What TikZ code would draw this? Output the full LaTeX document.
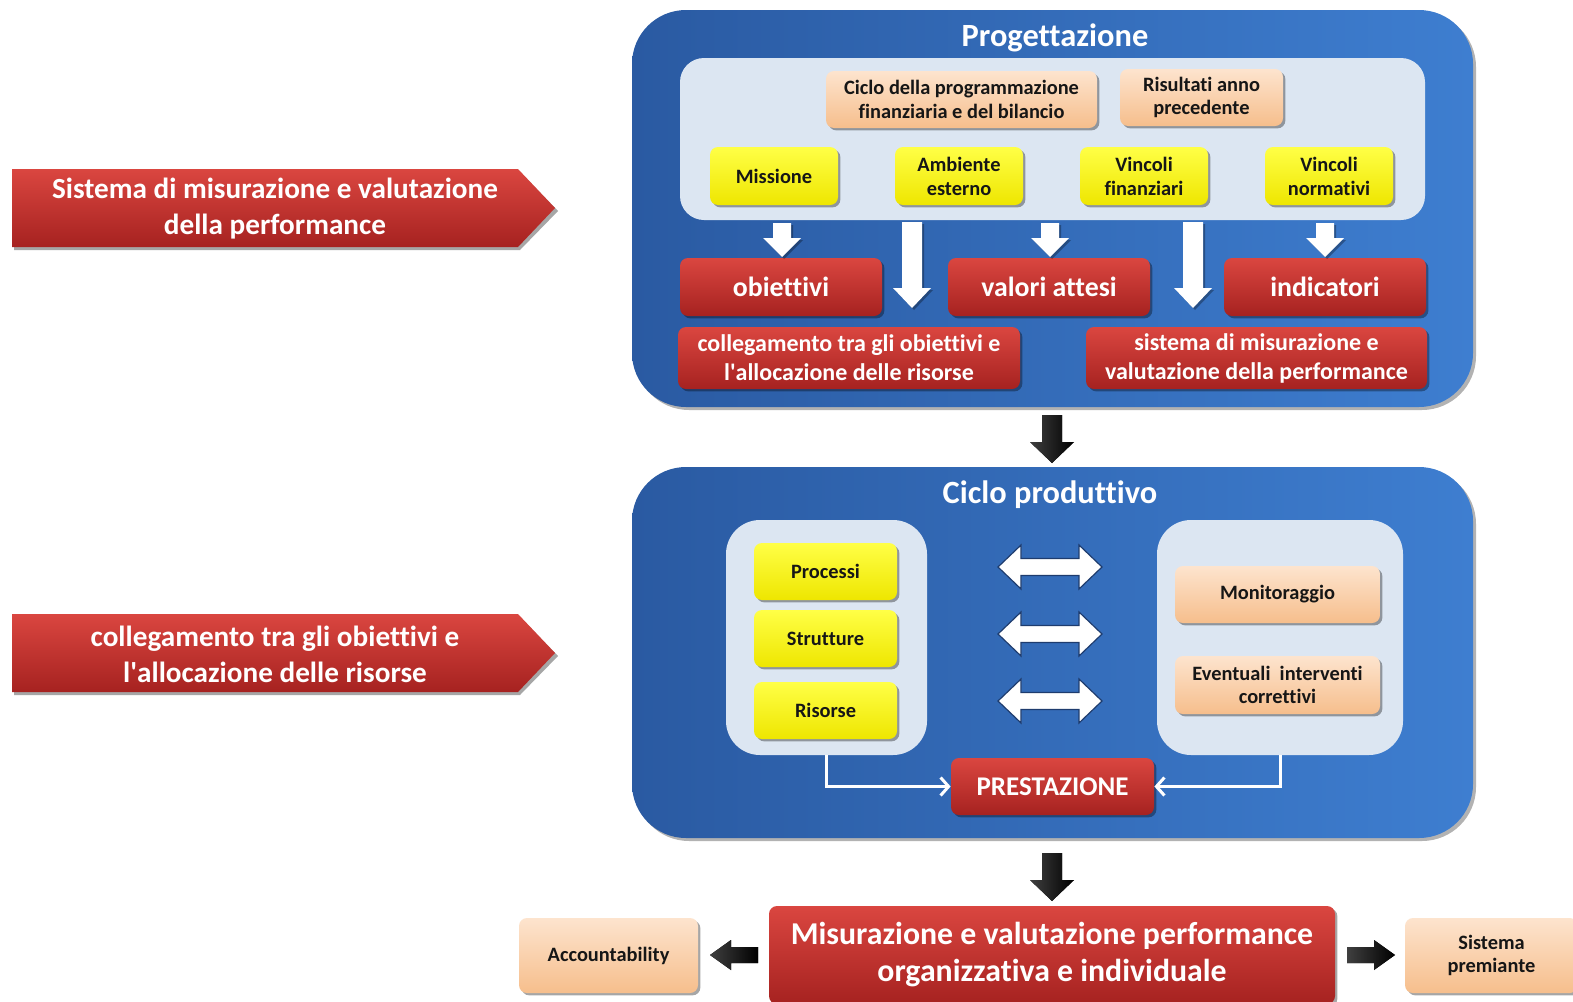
\documentclass[tikz,border=0pt]{standalone}
\usepackage{fontspec}
\setmainfont{Carlito}[Ligatures=CommonOff]
\usetikzlibrary{shadows,arrows.meta}

\definecolor{blueL}{RGB}{42,90,162}
\definecolor{blueR}{RGB}{62,126,208}
\definecolor{panel}{RGB}{220,230,242}
\definecolor{redT}{RGB}{218,70,64}
\definecolor{redB}{RGB}{166,34,32}
\definecolor{yelT}{RGB}{255,255,70}
\definecolor{yelB}{RGB}{238,230,0}
\definecolor{orT}{RGB}{253,228,206}
\definecolor{orB}{RGB}{246,190,140}
\definecolor{ink}{RGB}{22,22,22}
\definecolor{edge}{RGB}{30,60,110}

% block arrow pointing down: style, x, y top, y head, y tip, shaft half, head half
\newcommand{\downblock}[7]{%
  \fill[#1] (#2-#6,#3) -- (#2+#6,#3) -- (#2+#6,#4) -- (#2+#7,#4) -- (#2,#5)
    -- (#2-#7,#4) -- (#2-#6,#4) -- cycle;}
% horizontal block arrow: style, x tail, x head, x tip, y
\newcommand{\sideblock}[5]{%
  \fill[#1] (#2,#5-8) -- (#3,#5-8) -- (#3,#5-15) -- (#4,#5) -- (#3,#5+15)
    -- (#3,#5+8) -- (#2,#5+8) -- cycle;}
% double-headed white block arrow centred at x, y
\newcommand{\twoway}[2]{%
  \path[fill=white, draw=edge, line width=0.6pt]
    (#1-52,#2) -- (#1-29,#2-22) -- (#1-29,#2-8.5) -- (#1+29,#2-8.5)
    -- (#1+29,#2-22) -- (#1+52,#2) -- (#1+29,#2+22) -- (#1+29,#2+8.5)
    -- (#1-29,#2+8.5) -- (#1-29,#2+22) -- cycle;}

\begin{document}
\begin{tikzpicture}[x=0.5pt,y=-0.5pt,
  sh/.style={drop shadow={shadow xshift=1.2pt,shadow yshift=-1.2pt,opacity=.35,fill=black}},
  bigpanel/.style={rounded corners=27pt, left color=blueL, right color=blueR,
    drop shadow={shadow xshift=1.5pt,shadow yshift=-1.5pt,opacity=.3,fill=black}, inner sep=0pt},
  lightpanel/.style={fill=panel, inner sep=0pt},
  redbox/.style={sh, rounded corners=4pt, top color=redT, bottom color=redB,
    text=white, align=center, inner sep=0pt},
  yelbox/.style={sh, rounded corners=4pt, top color=yelT, bottom color=yelB,
    text=ink, align=center, inner sep=0pt,
    font=\bfseries\fontsize{10.2}{12}\selectfont},
  orbox/.style={sh, rounded corners=4pt, top color=orT, bottom color=orB,
    text=ink, align=center, inner sep=0pt,
    font=\bfseries\fontsize{10.2}{11.8}\selectfont},
  title/.style={text=white, font=\bfseries\fontsize{16.2}{19}\selectfont},
  bigred/.style={font=\bfseries\fontsize{13.9}{16}\selectfont},
  smallred/.style={font=\bfseries\fontsize{12}{14.5}\selectfont},
  sidelabel/.style={text=white, align=center, font=\bfseries\fontsize{14.6}{18}\selectfont},
  whitearrow/.style={fill=white},
  arrowshadow/.style={fill=black, opacity=.3, shift={(2,2)}},
  blackarrow/.style={left color=black!75, right color=black},
  conn/.style={draw=white, line width=1.5pt, -{Straight Barb[length=4pt,width=9pt,line width=1.5pt]}}
]
\useasboundingbox (0,0) rectangle (1573,1001);
\fill[white] (0,0) rectangle (1573,1001);

% ---------- side banners ----------
\fill[black!35] (14,172) -- (520,172) -- (558,211) -- (520,250) -- (14,250) -- cycle;
\shade[top color=redT, bottom color=redB] (12,169) -- (518,169) -- (555,208) -- (518,247) -- (12,247) -- cycle;
\node[sidelabel] (side1) at (275,209) {Sistema di misurazione e valutazione\\della performance};

\fill[black!35] (14,617) -- (520,617) -- (558,656) -- (520,695) -- (14,695) -- cycle;
\shade[top color=redT, bottom color=redB] (12,614) -- (518,614) -- (555,653) -- (518,692) -- (12,692) -- cycle;
\node[sidelabel] (side2) at (275,654) {collegamento tra gli obiettivi e\\l\textquotesingle allocazione delle risorse};

% ---------- Progettazione ----------
\node[bigpanel, minimum width=420.5pt, minimum height=198.5pt] (prog) at (1052.5,208.5) {};
\node[title] (progt) at (1055,38) {Progettazione};
\node[lightpanel, rounded corners=12pt, minimum width=372.5pt, minimum height=81pt] (ppanel) at (1052.5,139) {};

\node[orbox, minimum width=135.5pt, minimum height=28.5pt] (ciclo) at (961.5,99.5) {Ciclo della programmazione\\finanziaria e del bilancio};
\node[orbox, minimum width=81.5pt, minimum height=28.5pt] (risult) at (1201.5,97.5) {Risultati anno\\precedente};

\node[yelbox, minimum width=64pt, minimum height=29pt] (missione) at (774,176) {Missione};
\node[yelbox, minimum width=64pt, minimum height=29pt] (ambiente) at (959,176) {Ambiente\\esterno};
\node[yelbox, minimum width=64pt, minimum height=29pt] (vincfin) at (1144,176) {Vincoli\\finanziari};
\node[yelbox, minimum width=64pt, minimum height=29pt] (vincnorm) at (1329,176) {Vincoli\\normativi};

\node[redbox, bigred, minimum width=101pt, minimum height=29pt] (obiettivi) at (781,287) {obiettivi};
\node[redbox, bigred, minimum width=101pt, minimum height=29pt] (valori) at (1049,287) {valori attesi};
\node[redbox, bigred, minimum width=101pt, minimum height=29pt] (indicatori) at (1325,287) {indicatori};

\node[redbox, smallred, minimum width=171pt, minimum height=31pt] (colleg) at (849,358) {collegamento tra gli obiettivi e\\l\textquotesingle allocazione delle risorse};
\node[redbox, smallred, minimum width=170.5pt, minimum height=31pt] (sistema) at (1256.5,358) {sistema di misurazione e\\valutazione della performance};

% white block arrows out of the inputs panel
\foreach \ax in {782,1050,1325}{
  \downblock{arrowshadow}{\ax}{223}{238}{257}{9}{19}
  \downblock{whitearrow}{\ax}{223}{238}{257}{9}{19}}
\foreach \ax in {912,1193}{
  \downblock{arrowshadow}{\ax}{222}{288}{308}{10}{19}
  \downblock{whitearrow}{\ax}{222}{288}{308}{10}{19}}

% ---------- link between the two stages ----------
\downblock{blackarrow}{1052}{415}{442}{463}{10}{22}

% ---------- Ciclo produttivo ----------
\node[bigpanel, minimum width=420.5pt, minimum height=185.5pt] (prod) at (1052.5,652.5) {};
\node[title] (prodt) at (1050,495) {Ciclo produttivo};

\node[lightpanel, rounded corners=17pt, minimum width=100.5pt, minimum height=117.5pt] (lpanel) at (826.5,637.5) {};
\node[lightpanel, rounded corners=17pt, minimum width=123pt, minimum height=117.5pt] (rpanel) at (1280,637.5) {};

\node[yelbox, minimum width=71.5pt, minimum height=28.5pt] (processi) at (825.5,571.5) {Processi};
\node[yelbox, minimum width=71.5pt, minimum height=28.5pt] (strutture) at (825.5,638.5) {Strutture};
\node[yelbox, minimum width=71.5pt, minimum height=28.5pt] (risorse) at (825.5,710.5) {Risorse};

\node[orbox, minimum width=102.5pt, minimum height=28.5pt] (monitor) at (1277.5,594.5) {Monitoraggio};
\node[orbox, minimum width=102.5pt, minimum height=29pt] (eventuali) at (1277.5,685) {Eventuali\ \ interventi\\correttivi};

\twoway{1050}{567}
\twoway{1050}{634}
\twoway{1050}{701}

\node[redbox, font=\bfseries\fontsize{13.5}{16}\selectfont, minimum width=101.5pt, minimum height=28.5pt] (prest) at (1052.5,786.5) {PRESTAZIONE};

\draw[conn] (lpanel.south) |- (prest.west);
\draw[conn] (rpanel.south) |- (prest.east);

\downblock{blackarrow}{1052}{853}{880}{901}{10}{22}

% ---------- outcome row ----------
\node[redbox, font=\bfseries\fontsize{15.9}{18.5}\selectfont, minimum width=283pt, minimum height=49pt] (misur) at (1052,955) {Misurazione e valutazione performance\\organizzativa e individuale};
\node[orbox, minimum width=89.5pt, minimum height=37.5pt] (account) at (608.5,955.5) {Accountability};
\node[orbox, minimum width=86.5pt, minimum height=37.5pt] (premiante) at (1491.5,955.5) {Sistema\\premiante};

\sideblock{blackarrow}{758}{731}{710}{955}
\sideblock{blackarrow}{1347}{1374}{1395}{955}
\end{tikzpicture}
\end{document}
